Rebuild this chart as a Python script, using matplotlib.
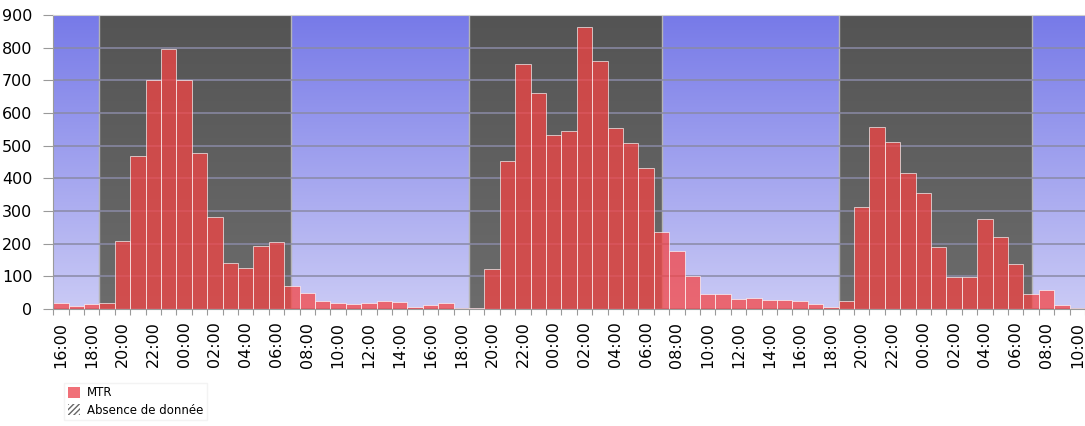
import numpy as np
import matplotlib.pyplot as plt
from matplotlib.colors import LinearSegmentedColormap
from matplotlib.patches import Patch

# hourly MTR values, first bar = 16:00
start_hour = 16
mtr = [18, 10, 15, 17, 208, 469, 701, 796, 701, 477, 283, 140, 127, 194, 206, 71,
       48, 24, 19, 14, 18, 23, 22, 6, 11, 17, 3, 2,
       121, 453, 750, 660, 533, 546, 862, 760, 555, 507, 431, 235,
       179, 101, 47, 45, 32, 35, 29, 27, 23, 14, 6,
       24, 313, 558, 510, 415, 354, 191, 99, 99, 276, 219, 137, 46, 58, 11, 2]

# night periods (sunset, sunrise) in bar units
nights = [(2.5, 14.95), (26.5, 39.0), (50.55, 63.05)]

n = len(mtr)
x = np.arange(n)
hours = [(start_hour + i) % 24 for i in range(n)]

fig = plt.figure(figsize=(10.85, 4.26), dpi=100)
ax = fig.add_axes([53.3/1085, 117/426, 1 - 53.3/1085, 294/426])

xmin, xmax = -0.5, 66.5
ymax = 900

#%% backgrounds
grad = np.linspace(0, 1, 256).reshape(-1, 1)
day_cmap = LinearSegmentedColormap.from_list("day", ["#777ae8", "#cacaf5"])
night_cmap = LinearSegmentedColormap.from_list("night", ["#545454", "#6c6c6c"])
ax.imshow(grad, cmap=day_cmap, extent=(xmin, xmax, 0, ymax), aspect='auto', zorder=0)
for s, e in nights:
    ax.imshow(grad, cmap=night_cmap, extent=(s, e, 0, ymax), aspect='auto', zorder=0.1)
    ax.axvline(s, color="#b4b4b4", lw=1, zorder=0.2)
    ax.axvline(e, color="#b4b4b4", lw=1, zorder=0.2)

#%% bars
ax.bar(x, mtr, width=1.0, color="#f54444", alpha=0.74,
       edgecolor=(1, 1, 1, 0.1), linewidth=0.6, zorder=2)

ax.set_xlim(xmin, xmax)
ax.set_ylim(0, ymax)
ax.set_axisbelow(True)
ax.yaxis.grid(True, color="#8a8aa6", lw=1.3, alpha=0.85)

ax.set_yticks(np.arange(0, 901, 100))
lab_idx = [i for i in range(n) if hours[i] % 2 == 0]
ax.set_xticks(lab_idx)
ax.set_xticklabels(["%02d:00" % hours[i] for i in lab_idx], rotation=90)
ax.set_xticks(np.arange(n + 1) - 0.5, minor=True)
ax.tick_params(axis='x', which='major', length=0, pad=9, labelsize=11.5)
ax.tick_params(axis='x', which='minor', length=4.5, color="#9a9a9a", width=0.8)
ax.tick_params(axis='y', length=7, color="#9a9a9a", pad=8, labelsize=11.5)

for side in ['left', 'bottom']:
    ax.spines[side].set_color("#9a9a9a")
ax.spines['top'].set_color("#cfcfcf")
ax.spines['right'].set_visible(False)

#%% legend
plt.rcParams['hatch.linewidth'] = 1.0
handles = [Patch(facecolor="#f07078", edgecolor="none", label="MTR"),
           Patch(facecolor="none", edgecolor="#666666", hatch="/" * 6, linewidth=0,
                 label="Absence de donnée")]
leg = fig.legend(handles=handles, loc='upper left', bbox_to_anchor=(0.054, 0.115),
                 frameon=True, fancybox=False, edgecolor="#f0f0f0", fontsize=8.5,
                 handlelength=1.0, handleheight=1.0, handletextpad=0.6,
                 labelspacing=0.35, borderpad=0.3)

plt.savefig("out.png", dpi=100)
